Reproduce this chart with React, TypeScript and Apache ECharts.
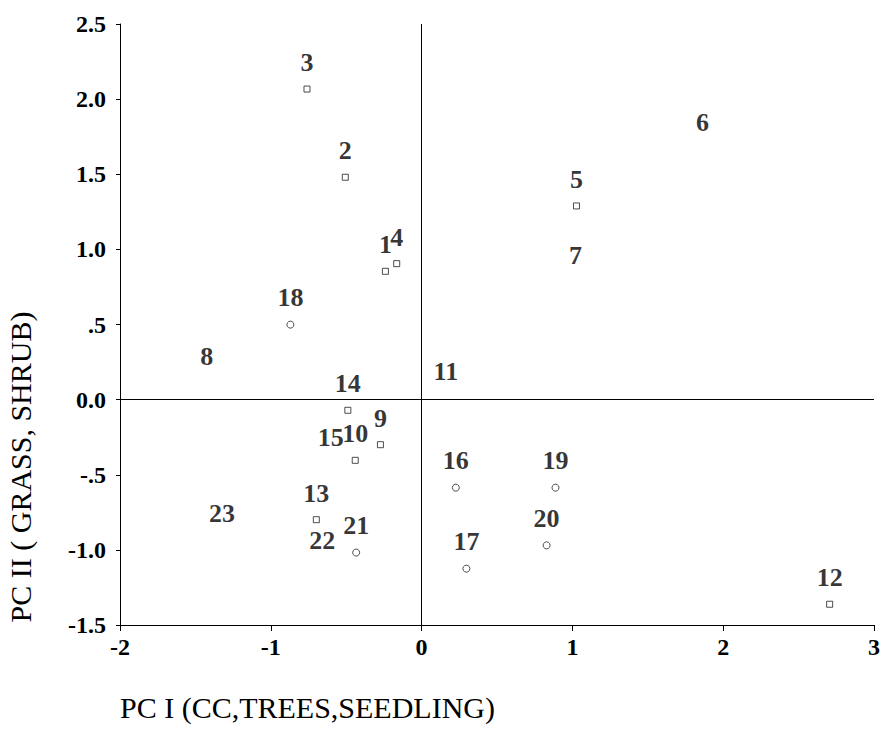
import React, { useEffect, useRef } from "react";
import * as echarts from "echarts";

// PCA site scores: PC I (x) and PC II (y), one entry per site id
const squareSites = ["1", "2", "3", "4", "5", "9", "10", "12", "13", "14"];
const squareX = [-0.24, -0.506, -0.76, -0.165, 1.027, -0.273, -0.44, 2.706, -0.698, -0.489];
const squareY = [0.854, 1.48, 2.067, 0.905, 1.289, -0.3, -0.404, -1.362, -0.799, -0.071];

const circleSites = ["16", "17", "18", "19", "20", "21"];
const circleX = [0.227, 0.297, -0.87, 0.888, 0.829, -0.434];
const circleY = [-0.586, -1.125, 0.499, -0.586, -0.97, -1.018];

// sites whose symbol is not printed, only their number
const plainSites = ["6", "7", "8", "11", "15", "22", "23"];
const plainX = [1.862, 1.02, -1.425, 0.161, -0.603, -0.658, -1.324];
const plainY = [1.67, 0.783, 0.117, 0.015, -0.426, -1.108, -0.93];

const xTicks = [-2, -1, 0, 1, 2, 3];
const yTickLabels: Record<string, string> = {
  "2.5": "2.5",
  "2": "2.0",
  "1.5": "1.5",
  "1": "1.0",
  "0.5": ".5",
  "0": "0.0",
  "-0.5": "-.5",
  "-1": "-1.0",
  "-1.5": "-1.5",
};

const xTitle = "PC I (CC,TREES,SEEDLING)";
const yTitle = "PC II ( GRASS, SHRUB)";

const FONT = "Liberation Serif, Times New Roman, serif";

function pts(names: string[], xs: number[], ys: number[]) {
  return names.map((n, i) => ({ name: n, value: [xs[i], ys[i]] }));
}

const pointLabel = {
  show: true,
  position: "top" as const,
  distance: 10,
  formatter: "{b}",
  color: "#000",
  fontFamily: FONT,
  fontSize: 26,
  fontWeight: "bold" as const,
};

export default function App() {
  const ref = useRef<HTMLDivElement>(null);

  useEffect(() => {
    if (!ref.current) return;
    const chart = echarts.init(ref.current, null, { renderer: "svg" });
    chart.setOption({
      animation: false,
      backgroundColor: "#fff",
      textStyle: { fontFamily: FONT },
      grid: { left: 120, right: 6, top: 24, bottom: 118, containLabel: false },
      xAxis: {
        type: "value",
        min: -2,
        max: 3,
        interval: 1,
        splitLine: { show: false },
        axisLine: { show: true, onZero: false, lineStyle: { color: "#000", width: 1 } },
        axisTick: { show: true, length: 6, lineStyle: { color: "#000" } },
        axisLabel: {
          color: "#000",
          fontFamily: FONT,
          fontSize: 24,
          fontWeight: "bold",
          margin: 10,
          formatter: (v: number) => (xTicks.includes(v) ? String(v) : ""),
        },
      },
      yAxis: {
        type: "value",
        min: -1.5,
        max: 2.5,
        interval: 0.5,
        splitLine: { show: false },
        axisLine: { show: true, onZero: false, lineStyle: { color: "#000", width: 1 } },
        axisTick: { show: true, length: 4, lineStyle: { color: "#000" } },
        axisLabel: {
          color: "#000",
          fontFamily: FONT,
          fontSize: 24,
          fontWeight: "bold",
          margin: 14,
          formatter: (v: number) => yTickLabels[String(v)] ?? "",
        },
      },
      graphic: [
        {
          type: "text",
          left: 120,
          top: 692,
          style: {
            text: xTitle,
            fill: "#000",
            fontFamily: FONT,
            fontSize: 30,
          },
        },
        {
          type: "text",
          x: 20,
          y: 467,
          rotation: Math.PI / 2,
          style: {
            text: yTitle,
            fill: "#000",
            fontFamily: FONT,
            fontSize: 30,
            align: "center",
            verticalAlign: "middle",
          },
        },
      ],
      series: [
        {
          type: "scatter",
          data: pts(squareSites, squareX, squareY),
          symbol: "rect",
          symbolSize: 6,
          itemStyle: { color: "#fff", borderColor: "#222", borderWidth: 1 },
          label: pointLabel,
          markLine: {
            silent: true,
            symbol: "none",
            label: { show: false },
            lineStyle: { color: "#000", width: 1, type: "solid" },
            data: [{ xAxis: 0 }, { yAxis: 0 }],
          },
        },
        {
          type: "scatter",
          data: pts(circleSites, circleX, circleY),
          symbol: "circle",
          symbolSize: 7,
          itemStyle: { color: "#fff", borderColor: "#222", borderWidth: 1 },
          label: pointLabel,
        },
        {
          type: "scatter",
          data: pts(plainSites, plainX, plainY),
          symbol: "circle",
          symbolSize: 6,
          itemStyle: { color: "rgba(0,0,0,0)", borderWidth: 0 },
          label: pointLabel,
        },
      ],
    });
    return () => chart.dispose();
  }, []);

  return (
    <div
      ref={ref}
      style={{ position: "absolute", left: 0, top: 0, width: 883, height: 743 }}
    />
  );
}
